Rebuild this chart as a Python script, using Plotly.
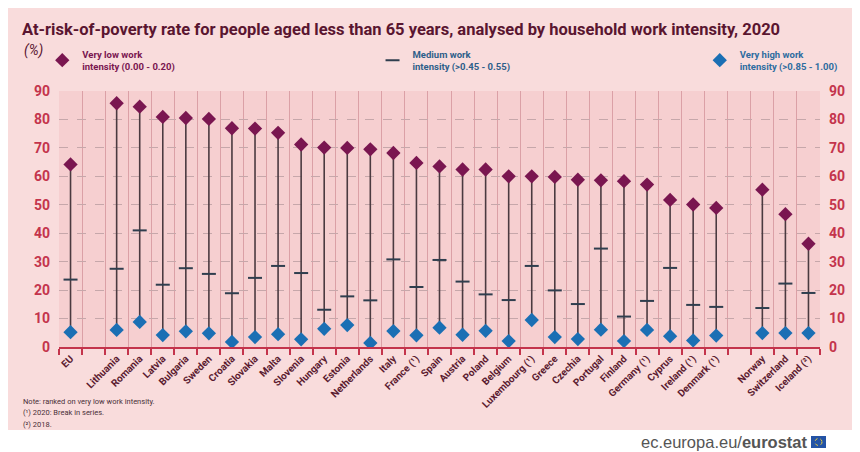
import plotly.graph_objects as go

countries = ["EU", "Lithuania", "Romania", "Latvia", "Bulgaria", "Sweden", "Croatia", "Slovakia", "Malta",
             "Slovenia", "Hungary", "Estonia", "Netherlands", "Italy", "France (¹)", "Spain", "Austria", "Poland",
             "Belgium", "Luxembourg (¹)", "Greece", "Czechia", "Portugal", "Finland", "Germany (¹)", "Cyprus",
             "Ireland (¹)", "Denmark (¹)", "Norway", "Switzerland", "Iceland (²)"]
very_low = [64.2, 85.7, 84.5, 80.9, 80.5, 80.2, 76.9, 76.8, 75.3, 71.2, 70.1, 70.0, 69.5, 68.2, 64.7, 63.5,
            62.4, 62.4, 60.0, 60.0, 59.8, 58.8, 58.6, 58.3, 57.1, 51.7, 50.1, 48.9, 55.3, 46.7, 36.3]
medium = [23.7, 27.5, 41.0, 21.9, 27.7, 25.7, 18.9, 24.3, 28.5, 26.0, 13.1, 17.8, 16.4, 30.8, 21.1, 30.6,
          23.0, 18.5, 16.5, 28.5, 19.9, 15.1, 34.6, 10.7, 16.2, 27.8, 14.8, 14.1, 13.7, 22.3, 19.0]
very_high = [5.2, 6.0, 8.8, 4.2, 5.5, 4.8, 1.8, 3.5, 4.5, 2.7, 6.4, 7.7, 1.4, 5.6, 4.1, 6.8,
             4.3, 5.7, 2.1, 9.5, 3.5, 2.8, 6.1, 2.1, 6.0, 3.8, 2.3, 4.0, 4.9, 4.9, 4.9]

# slot positions: EU, gap, 27 member states, gap, EFTA
pos = [0] + list(range(2, 29)) + [30, 31, 32]

FONT = "Roboto, sans-serif"
MAROON = "#7a1650"
BLUE = "#1b6fb4"
AXIS_RED = "#c4344c"
TEXT_DARK = "#5b1b30"

stem_x, stem_y = [], []
for x, lo, hi in zip(pos, very_low, very_high):
    stem_x += [x, x, None]; stem_y += [hi, lo, None]

fig = go.Figure()
fig.add_trace(go.Scatter(x=stem_x, y=stem_y, mode="lines", line=dict(color="#4b3a40", width=1.6),
                         showlegend=False, hoverinfo="skip"))
fig.add_trace(go.Scatter(x=pos, y=very_low, mode="markers", name="Very low work<br>intensity (0.00 - 0.20)",
                         marker=dict(symbol="diamond", size=11, color=MAROON), legend="legend"))
fig.add_trace(go.Scatter(x=pos, y=medium, mode="markers", name="Medium work<br>intensity (>0.45 - 0.55)",
                         marker=dict(symbol="line-ew", size=10, line=dict(color="#2f3e4e", width=2)),
                         legend="legend2", yaxis="y2"))
fig.add_trace(go.Scatter(x=pos, y=very_high, mode="markers", name="Very high work<br>intensity (>0.85 - 1.00)",
                         marker=dict(symbol="diamond", size=11, color=BLUE), legend="legend3"))

legend_common = dict(orientation="h", yanchor="middle", y=1.12, bgcolor="rgba(0,0,0,0)",
                     itemwidth=30, tracegroupgap=0)
fig.update_layout(
    width=860, height=452, margin=dict(l=51, r=48, t=83, b=113),
    paper_bgcolor="#f9dcdc", plot_bgcolor="#f6cfd0",
    font=dict(family=FONT, color=TEXT_DARK),
    title=dict(text="<b>At-risk-of-poverty rate for people aged less than 65 years, analysed by household work intensity, 2020</b>",
               x=14 / 860, xref="container", xanchor="left", y=1 - 21 / 452, yref="container", yanchor="middle",
               font=dict(family=FONT, size=16.5, color="#5a1530")),
    legend=dict(x=-0.022, xanchor="left", font=dict(family=FONT, size=9.5, color=MAROON, weight="bold"), **legend_common),
    legend2=dict(x=0.412, xanchor="left", font=dict(family=FONT, size=9.5, color="#2e5f8a", weight="bold"), **legend_common),
    legend3=dict(x=0.842, xanchor="left", font=dict(family=FONT, size=9.5, color="#2e6ca0", weight="bold"), **legend_common),
    xaxis=dict(range=[-0.5, 32.5], tickmode="array", tickvals=pos, ticktext=countries, tickangle=-45,
               ticks="", showgrid=False, zeroline=False, showline=True, linecolor=AXIS_RED, linewidth=2,
               tickfont=dict(family=FONT, size=10, color=TEXT_DARK, weight="bold"),
               minor=dict(tick0=-0.5, dtick=1, ticks="outside", ticklen=6, tickcolor=AXIS_RED, tickwidth=1.5,
                          showgrid=True, gridcolor="#dba0a6", gridwidth=1)),
    yaxis=dict(range=[0, 90], dtick=10, showgrid=True, gridcolor="#c6a7aa", griddash="dash", gridwidth=1,
               zeroline=False, ticks="", tickfont=dict(family=FONT, size=14, color=AXIS_RED, weight="bold"),
               ticklabelstandoff=8),
    yaxis2=dict(range=[0, 90], dtick=10, overlaying="y", side="right", showgrid=False, zeroline=False,
                ticks="", tickfont=dict(family=FONT, size=14, color=AXIS_RED, weight="bold"), ticklabelstandoff=8),
    showlegend=True,
)

# white strip under the pink panel
fig.add_shape(type="rect", xref="paper", yref="paper", x0=-0.1, x1=1.1, y0=-0.45, y1=-(422 - 339) / 256,
              fillcolor="white", line_width=0, layer="below")
# EU flag
fig.add_shape(type="rect", xref="paper", yref="paper", x0=(803 - 51) / 761, x1=(818 - 51) / 761,
              y0=-(440 - 339) / 256, y1=-(428 - 339) / 256, fillcolor="#2353a5", line_width=0)
fig.add_shape(type="circle", xref="paper", yref="paper", x0=(807 - 51) / 761, x1=(814 - 51) / 761,
              y0=-(437.5 - 339) / 256, y1=-(430.5 - 339) / 256, fillcolor="rgba(0,0,0,0)",
              line=dict(color="#f2d23a", width=1, dash="dot"))

fig.add_annotation(text="<i>(%)</i>", xref="paper", yref="paper", x=-(51 - 14) / 761, y=(339 - 42) / 256,
                   xanchor="left", yanchor="middle", showarrow=False, font=dict(family=FONT, size=14, color="#5a1530"))
notes = ["Note: ranked on very low work intensity.", "(¹) 2020: Break in series.", "(²) 2018."]
for i, note in enumerate(notes):
    fig.add_annotation(text=note, xref="paper", yref="paper", x=-(51 - 13) / 761, y=-(393 + 11.5 * i - 339) / 256,
                       xanchor="left", yanchor="middle", showarrow=False,
                       font=dict(family=FONT, size=7.5, color="#4a3038"))
fig.add_annotation(text="ec.europa.eu/<b>eurostat</b>", xref="paper", yref="paper", x=(802 - 51) / 761,
                   y=-(434 - 339) / 256, xanchor="right", yanchor="middle", showarrow=False,
                   font=dict(family="Liberation Sans, Arial, sans-serif", size=16.5, color="#555555"))

fig.write_html("out.html")
